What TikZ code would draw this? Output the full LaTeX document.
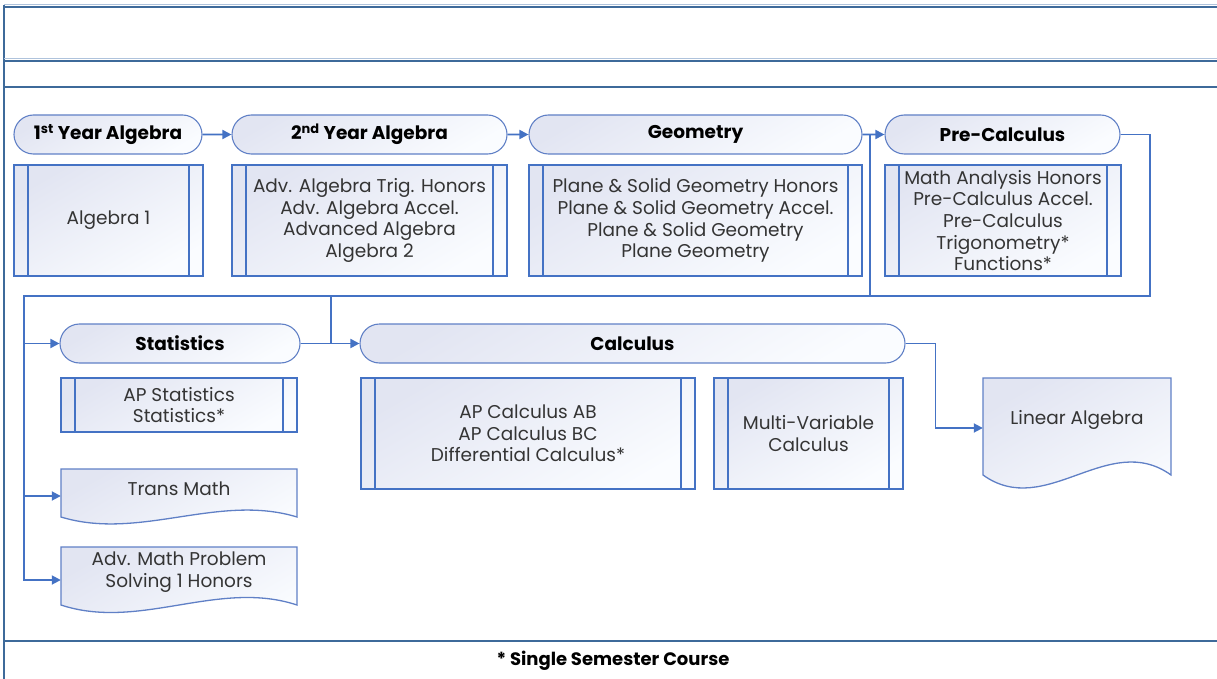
\documentclass[tikz,border=0pt]{standalone}
\usepackage{fontspec}
\setmainfont{Poppins}
\usetikzlibrary{shapes.misc,arrows.meta,positioning}

\definecolor{flowblue}{RGB}{68,114,196}
\definecolor{edgeblue}{RGB}{96,128,198}
\definecolor{framecol}{RGB}{62,106,154}
\definecolor{framelight}{RGB}{175,195,220}
\definecolor{gradA}{RGB}{226,229,242}
\definecolor{gradB}{RGB}{250,252,255}
\definecolor{textgray}{RGB}{52,52,52}

\newcommand{\coursefont}{\fontsize{18.5}{21.7}\selectfont}
% document shape: left, top, width, straight height, wave depth
\newcommand{\wavedoc}[5]{%
  \draw[doc] (#1,#2) -- ({#1+#3},#2) -- ({#1+#3},{#2+#4})
    .. controls ({#1+#3*2/3},{#2+#4-#5}) and ({#1+#3/3},{#2+#4+#5}) .. (#1,{#2+#4}) -- cycle;}

\tikzset{
  level/.style={rounded rectangle, draw=edgeblue, line width=1.1pt,
    top color=gradA, bottom color=gradB, shading angle=30,
    minimum height=39pt, inner sep=0pt, text=black,
    font=\bfseries\fontsize{18.5}{22}\selectfont},
  course/.style={rectangle, draw=flowblue, line width=1.8pt,
    top color=gradA, bottom color=gradB, shading angle=30,
    inner sep=0pt, align=center, text=textgray, font=\coursefont},
  bar/.style={draw=flowblue, line width=1.8pt},
  doc/.style={draw=edgeblue, line width=1.3pt, top color=gradA, bottom color=gradB, shading angle=30},
  doctext/.style={inner sep=0pt, align=center, text=textgray, font=\coursefont},
  wire/.style={draw=flowblue, line width=1.8pt},
  link/.style={wire, -{Triangle[length=9pt,width=9pt]}},
  framerule/.style={draw=framecol, line width=1.3pt},
}

\begin{document}
\begin{tikzpicture}[x=1pt,y=-1pt]
\useasboundingbox (0,0) rectangle (1217,679);

% page frame
\draw[framerule] (4,5) -- (4,679);
\draw[framelight, line width=1pt] (4,5) -- (1217,5);
\draw[framerule] (4,7) -- (1217,7);
\draw[framelight, line width=1pt] (4,59) -- (1217,59);
\draw[framerule] (4,61) -- (1217,61);
\draw[framerule, line width=2.5pt] (4,87) -- (1217,87);
\draw[framerule, line width=2pt] (4,641) -- (1217,641);

% levels
\node[level, minimum width=188pt] (y1) at (108,134.5) {1\textsuperscript{st} Year Algebra};
\node[level, minimum width=275pt] (y2) at (369.5,134.5) {2\textsuperscript{nd} Year Algebra};
\node[level, minimum width=333pt] (geo) at (695.5,134.5) {Geometry};
\node[level, minimum width=235pt] (pre) at (1002.5,134.5) {Pre-Calculus};
\node[level, minimum width=240pt] (stat) at (180,343.5) {Statistics};
\node[level, minimum width=545pt] (calc) at (632.5,343.5) {Calculus};

% courses
\node[course, minimum width=189pt, minimum height=111pt] (alg1) at (108.5,220.5) {Algebra 1};
\node[course, minimum width=275pt, minimum height=111pt] (alg2) at (369.5,220.5)
  {Adv. Algebra Trig. Honors\\Adv. Algebra Accel.\\Advanced Algebra\\Algebra 2};
\node[course, minimum width=333pt, minimum height=111pt] (geob) at (695.5,220.5)
  {Plane \& Solid Geometry Honors\\Plane \& Solid Geometry Accel.\\Plane \& Solid Geometry\\Plane Geometry};
\node[course, minimum width=236pt, minimum height=111pt] (preb) at (1003,220.5)
  {Math Analysis Honors\\Pre-Calculus Accel.\\Pre-Calculus\\Trigonometry*\\Functions*};
\node[course, minimum width=236pt, minimum height=54pt] (statb) at (179,405) {AP Statistics\\Statistics*};
\node[course, minimum width=334pt, minimum height=111pt] (calcb) at (528,433.5)
  {AP Calculus AB\\AP Calculus BC\\Differential Calculus*};
\node[course, minimum width=189pt, minimum height=111pt] (multi) at (808.5,433.5) {Multi-Variable\\Calculus};

\foreach \b in {alg1,alg2,geob,preb,statb,calcb,multi}{
  \draw[bar] ([xshift=15pt]\b.north west) -- ([xshift=15pt]\b.south west);
  \draw[bar] ([xshift=-15pt]\b.north east) -- ([xshift=-15pt]\b.south east);
}

% documents
\wavedoc{61}{469}{236}{48}{24}
\node[doctext, minimum width=236pt] (trans) at (179,489) {Trans Math};
\wavedoc{61}{547}{236}{58}{26}
\node[doctext, minimum width=236pt] (adv) at (179,572) {Adv. Math Problem\\Solving 1 Honors};
\wavedoc{983}{378}{188}{97}{45}
\node[doctext, minimum width=188pt] (lin) at (1077,420) {Linear Algebra};

\coordinate (transIn) at ([yshift=-7pt]trans.west);
\coordinate (advIn) at ([yshift=-8pt]adv.west);
\coordinate (linIn) at ([yshift=-8pt]lin.west);
\coordinate (busL) at (24,296);
\coordinate (busR) at (1150,296);
\coordinate (geoDrop) at (870,134.5);
\coordinate (statDrop) at (331,296);

% connectors
\draw[link] (y1) -- (y2);
\draw[link] (y2) -- (geo);
\draw[link] (geo) -- (pre);
\draw[wire] (geoDrop) -- (geoDrop |- busL);
\draw[link] (pre.east) -| (busR) -- (busL) |- (advIn);
\draw[link] (busL |- stat.west) -- (stat.west);
\draw[link] (transIn -| busL) -- (transIn);
\draw[link] (stat.east) -- (calc.west);
\draw[wire] (statDrop) -- (statDrop |- stat.east);
\draw[link] (calc.east) -- ++(30,0) |- (linIn);

% footnote
\node[font=\bfseries\fontsize{18}{20}\selectfont] (note) at (613,661) {* Single Semester Course};
\end{tikzpicture}
\end{document}
